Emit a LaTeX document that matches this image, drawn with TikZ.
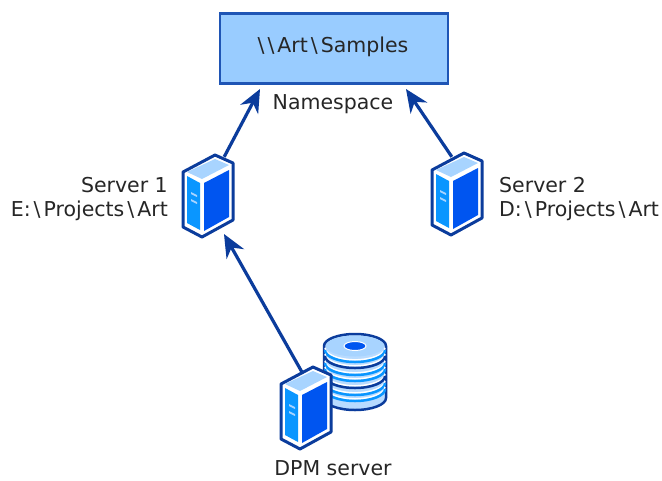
\documentclass[tikz,border=0pt]{standalone}
\usepackage{fontspec}
\setmainfont{DejaVu Sans}
\usetikzlibrary{arrows.meta}
\definecolor{edgeblue}{HTML}{0B3C9C}
\definecolor{boxblue}{HTML}{99CCFF}
\definecolor{boxline}{HTML}{1F55B5}
\definecolor{sideblue}{HTML}{0A96FF}
\definecolor{faceblue}{HTML}{0055F0}
\definecolor{topblue}{HTML}{A8D4FF}
\newcommand{\bslash}{\kern3pt\textbackslash\kern3pt}
\tikzset{
  >={Stealth[length=23pt,width=20pt]},
  label/.style={font=\fontsize{20.5pt}{24pt}\selectfont,text=black!85,align=left,inner sep=0pt},
  link/.style={draw=edgeblue,line width=3.2pt},
  icon/.style={inner sep=0pt,minimum width=50pt,minimum height=82pt},
  serverbox/.pic={
    \draw[edgeblue,line width=3pt,line join=round,fill=white]
      (0,17) -- (32,0) -- (50,8) -- (50,65) -- (19,82) -- (0,72) -- cycle;
    \fill[topblue] (4,17) -- (32,4) -- (46,10) -- (19,24) -- cycle;
    \fill[sideblue] (4,21) -- (17,28) -- (17,75) -- (4,68) -- cycle;
    \fill[faceblue] (21,28) -- (46,15) -- (46,62) -- (21,76) -- cycle;
    \fill[topblue] (8,37) -- (14,40) -- (14,42) -- (8,39) -- cycle
      (8,44) -- (14,47) -- (14,49) -- (8,46) -- cycle;
  }
}
\begin{document}
\begin{tikzpicture}[x=1pt,y=-1pt]
    \useasboundingbox[fill=white] (0,0) rectangle (662,480);
    \node[draw=boxline,fill=boxblue,line width=2.5pt,minimum width=228pt,minimum height=70pt,inner sep=0pt] (ns) at (334,48.5) {};
    \node[label] (nstext) at (333,47) {\textbackslash\bslash Art\bslash Samples};
    \node[label] (nslabel) at (333,104) {Namespace};
    \node[icon] (srvone) at (208,196) {};
    \node[icon] (srvtwo) at (457,194) {};
    \node[icon] (dpm) at (306,408) {};
    \pic at (183,155) {serverbox};
    \pic at (432,153) {serverbox};
    % disks: body first, then the bands from the top down
    \draw[edgeblue,line width=2.5pt,fill=boxblue!70!white] (324,346) -- (324,398)
      arc[start angle=180,end angle=360,x radius=31pt,y radius=12pt] -- (386,346)
      arc[start angle=0,end angle=180,x radius=31pt,y radius=12pt] -- cycle;
    \foreach \d/\c in {350/sideblue,356/edgeblue,363/sideblue,369/sideblue,376/edgeblue,383/sideblue,389/sideblue} {
      \draw[white,line width=1.5pt] (325,\d-2.2) arc[start angle=180,end angle=360,x radius=30pt,y radius=12pt];
      \draw[\c,line width=2.5pt] (325,\d) arc[start angle=180,end angle=360,x radius=30pt,y radius=12pt];
    }
    \fill[topblue] (355,346) ellipse (29pt and 10.5pt);
    \draw[white,fill=faceblue,line width=1pt] (355,346) ellipse (11pt and 4.5pt);
    \pic at (281,367) {serverbox};
    \node[label,anchor=east,align=right] (srvonetext) at (168,199.5) {Server 1\\E:\bslash Projects\bslash Art};
    \node[label,anchor=west] (srvtwotext) at (499,199.5) {Server 2\\D:\bslash Projects\bslash Art};
    \node[label] (dpmtext) at (333,468.5) {DPM server};
    \coordinate (tipa) at (260,89);
    \coordinate (tipb) at (406,89);
    \coordinate (tipc) at (224,234);
    \draw[link,->] (srvone.north east) ++(-9,2) -- (tipa);
    \draw[link,->] (srvtwo.north west) ++(20,4) -- (tipb);
    \draw[link,->] (dpm.north west) ++(21,5) -- (tipc);
\end{tikzpicture}
\end{document}
